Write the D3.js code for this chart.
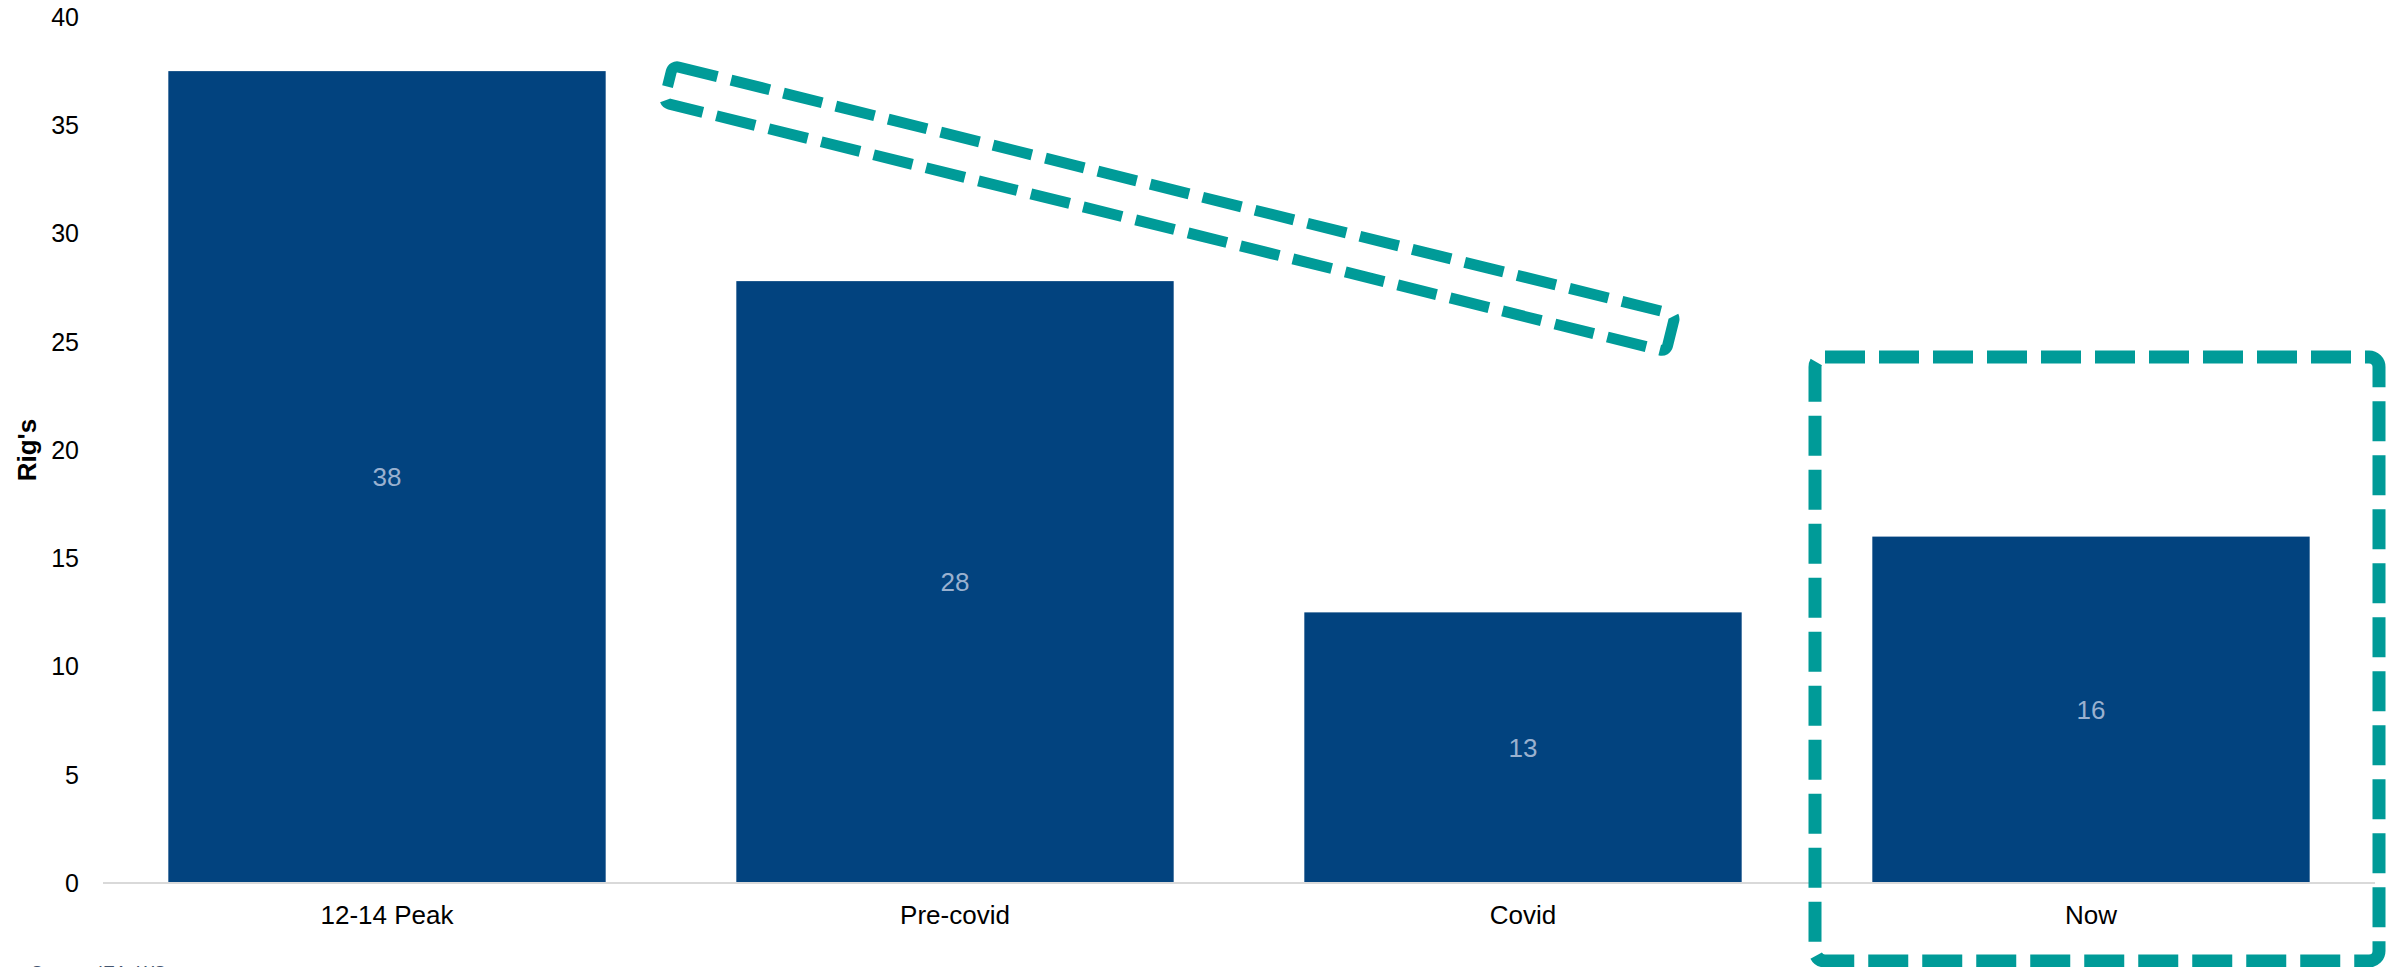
<!DOCTYPE html>
<html>
<head>
<meta charset="utf-8">
<script src="https://cdn.jsdelivr.net/npm/d3@7"></script>
<style>
  body { margin: 0; background: #fff; }
  svg { display: block; }
  .tick-label { font-family: "Liberation Sans", Arial, sans-serif; font-size: 25px; fill: #000; }
  .cat-label { font-family: "Liberation Sans", Arial, sans-serif; font-size: 26px; fill: #000; }
  .bar-label { font-family: "Liberation Sans", Arial, sans-serif; font-size: 26px; fill: #9ab1cf; }
  .y-title { font-family: "Liberation Sans Narrow", "Arial Narrow", "Liberation Sans", sans-serif; font-weight: bold; font-size: 26px; fill: #000; }
  .source { font-family: "Liberation Sans", Arial, sans-serif; font-size: 18px; fill: #44546e; }
</style>
</head>
<body>
<div id="chart"></div>
<script>
// data
var categories = ['12-14 Peak', 'Pre-covid', 'Covid', 'Now'];
var rigs = [37.5, 27.8, 12.5, 16.0];
var yTicks = [0, 5, 10, 15, 20, 25, 30, 35, 40];

// annotations, in data units (band index / rig count)
var trendBandFrom = [0.495, 36.9];
var trendBandTo = [2.26, 25.4];
var trendBandThickness = 1.76;
var nowBoxRange = [24.3, -3.6];

var width = 2400,
    height = 967;
var margin = { top: 17, right: 25, bottom: 84, left: 103 };

var svg = d3.select('#chart')
  .append('svg')
  .attr('width', width)
  .attr('height', height);

var x = d3.scaleBand()
  .domain(categories)
  .range([margin.left, width - margin.right])
  .paddingInner(0.23)
  .paddingOuter(0.115);

var y = d3.scaleLinear()
  .domain([0, 40])
  .range([height - margin.bottom, margin.top]);

// band index -> pixel (centre of band)
var xIdx = d3.scaleLinear()
  .domain([0, 1])
  .range([x(categories[0]) + x.bandwidth() / 2, x(categories[1]) + x.bandwidth() / 2]);

// y tick labels
svg.append('g')
  .selectAll('text')
  .data(yTicks)
  .enter().append('text')
  .attr('class', 'tick-label')
  .attr('x', 79)
  .attr('y', function(d) { return y(d); })
  .attr('dy', '0.35em')
  .attr('text-anchor', 'end')
  .text(function(d) { return d; });

svg.append('text')
  .attr('class', 'y-title')
  .attr('transform', 'translate(36,' + y(20) + ') rotate(-90)')
  .attr('text-anchor', 'middle')
  .text("Rig's");

// bars
svg.append('g')
  .selectAll('rect')
  .data(rigs)
  .enter().append('rect')
  .attr('x', function(d, i) { return x(categories[i]); })
  .attr('y', function(d) { return y(d); })
  .attr('width', x.bandwidth())
  .attr('height', function(d) { return y(0) - y(d); })
  .attr('fill', '#02437f');

// baseline
svg.append('line')
  .attr('x1', margin.left)
  .attr('x2', width - margin.right)
  .attr('y1', y(0))
  .attr('y2', y(0))
  .attr('stroke', '#d9d9d9')
  .attr('stroke-width', 2);

// value labels
svg.append('g')
  .selectAll('text')
  .data(rigs)
  .enter().append('text')
  .attr('class', 'bar-label')
  .attr('x', function(d, i) { return x(categories[i]) + x.bandwidth() / 2; })
  .attr('y', function(d) { return (y(d) + y(0)) / 2; })
  .attr('dy', '0.35em')
  .attr('text-anchor', 'middle')
  .text(function(d) { return d3.format('.0f')(d + 0.001); });

// category labels
svg.append('g')
  .selectAll('text')
  .data(categories)
  .enter().append('text')
  .attr('class', 'cat-label')
  .attr('x', function(d) { return x(d) + x.bandwidth() / 2; })
  .attr('y', y(0) + 41)
  .attr('text-anchor', 'middle')
  .text(function(d) { return d; });

// slanted dashed band
var p0 = [xIdx(trendBandFrom[0]), y(trendBandFrom[1])];
var p1 = [xIdx(trendBandTo[0]), y(trendBandTo[1])];
var bandLen = Math.hypot(p1[0] - p0[0], p1[1] - p0[1]);
var bandAngle = Math.atan2(p1[1] - p0[1], p1[0] - p0[0]) * 180 / Math.PI;
var bandH = y(0) - y(trendBandThickness);

svg.append('rect')
  .attr('x', -bandLen / 2)
  .attr('y', -bandH / 2)
  .attr('width', bandLen)
  .attr('height', bandH)
  .attr('rx', 6)
  .attr('transform', 'translate(' + (p0[0] + p1[0]) / 2 + ',' + (p0[1] + p1[1]) / 2 + ') rotate(' + bandAngle + ')')
  .attr('fill', 'none')
  .attr('stroke', '#009b98')
  .attr('stroke-width', 11)
  .attr('stroke-dasharray', '40,14');

// box around "Now"
var bx0 = x('Now') - x.step() * x.paddingInner() / 2 + 8;
var bx1 = x('Now') + x.bandwidth() + x.step() * x.paddingInner() / 2 + 4;
svg.append('rect')
  .attr('x', bx0)
  .attr('y', y(nowBoxRange[0]))
  .attr('width', bx1 - bx0)
  .attr('height', y(nowBoxRange[1]) - y(nowBoxRange[0]))
  .attr('rx', 10)
  .attr('fill', 'none')
  .attr('stroke', '#009b98')
  .attr('stroke-width', 13)
  .attr('stroke-dasharray', '40,14');

// source (cut off at the bottom edge, as in the original)
svg.append('text')
  .attr('class', 'source')
  .attr('x', 31)
  .attr('y', 979)
  .text('Source: IEA, WS');
</script>
</body>
</html>
